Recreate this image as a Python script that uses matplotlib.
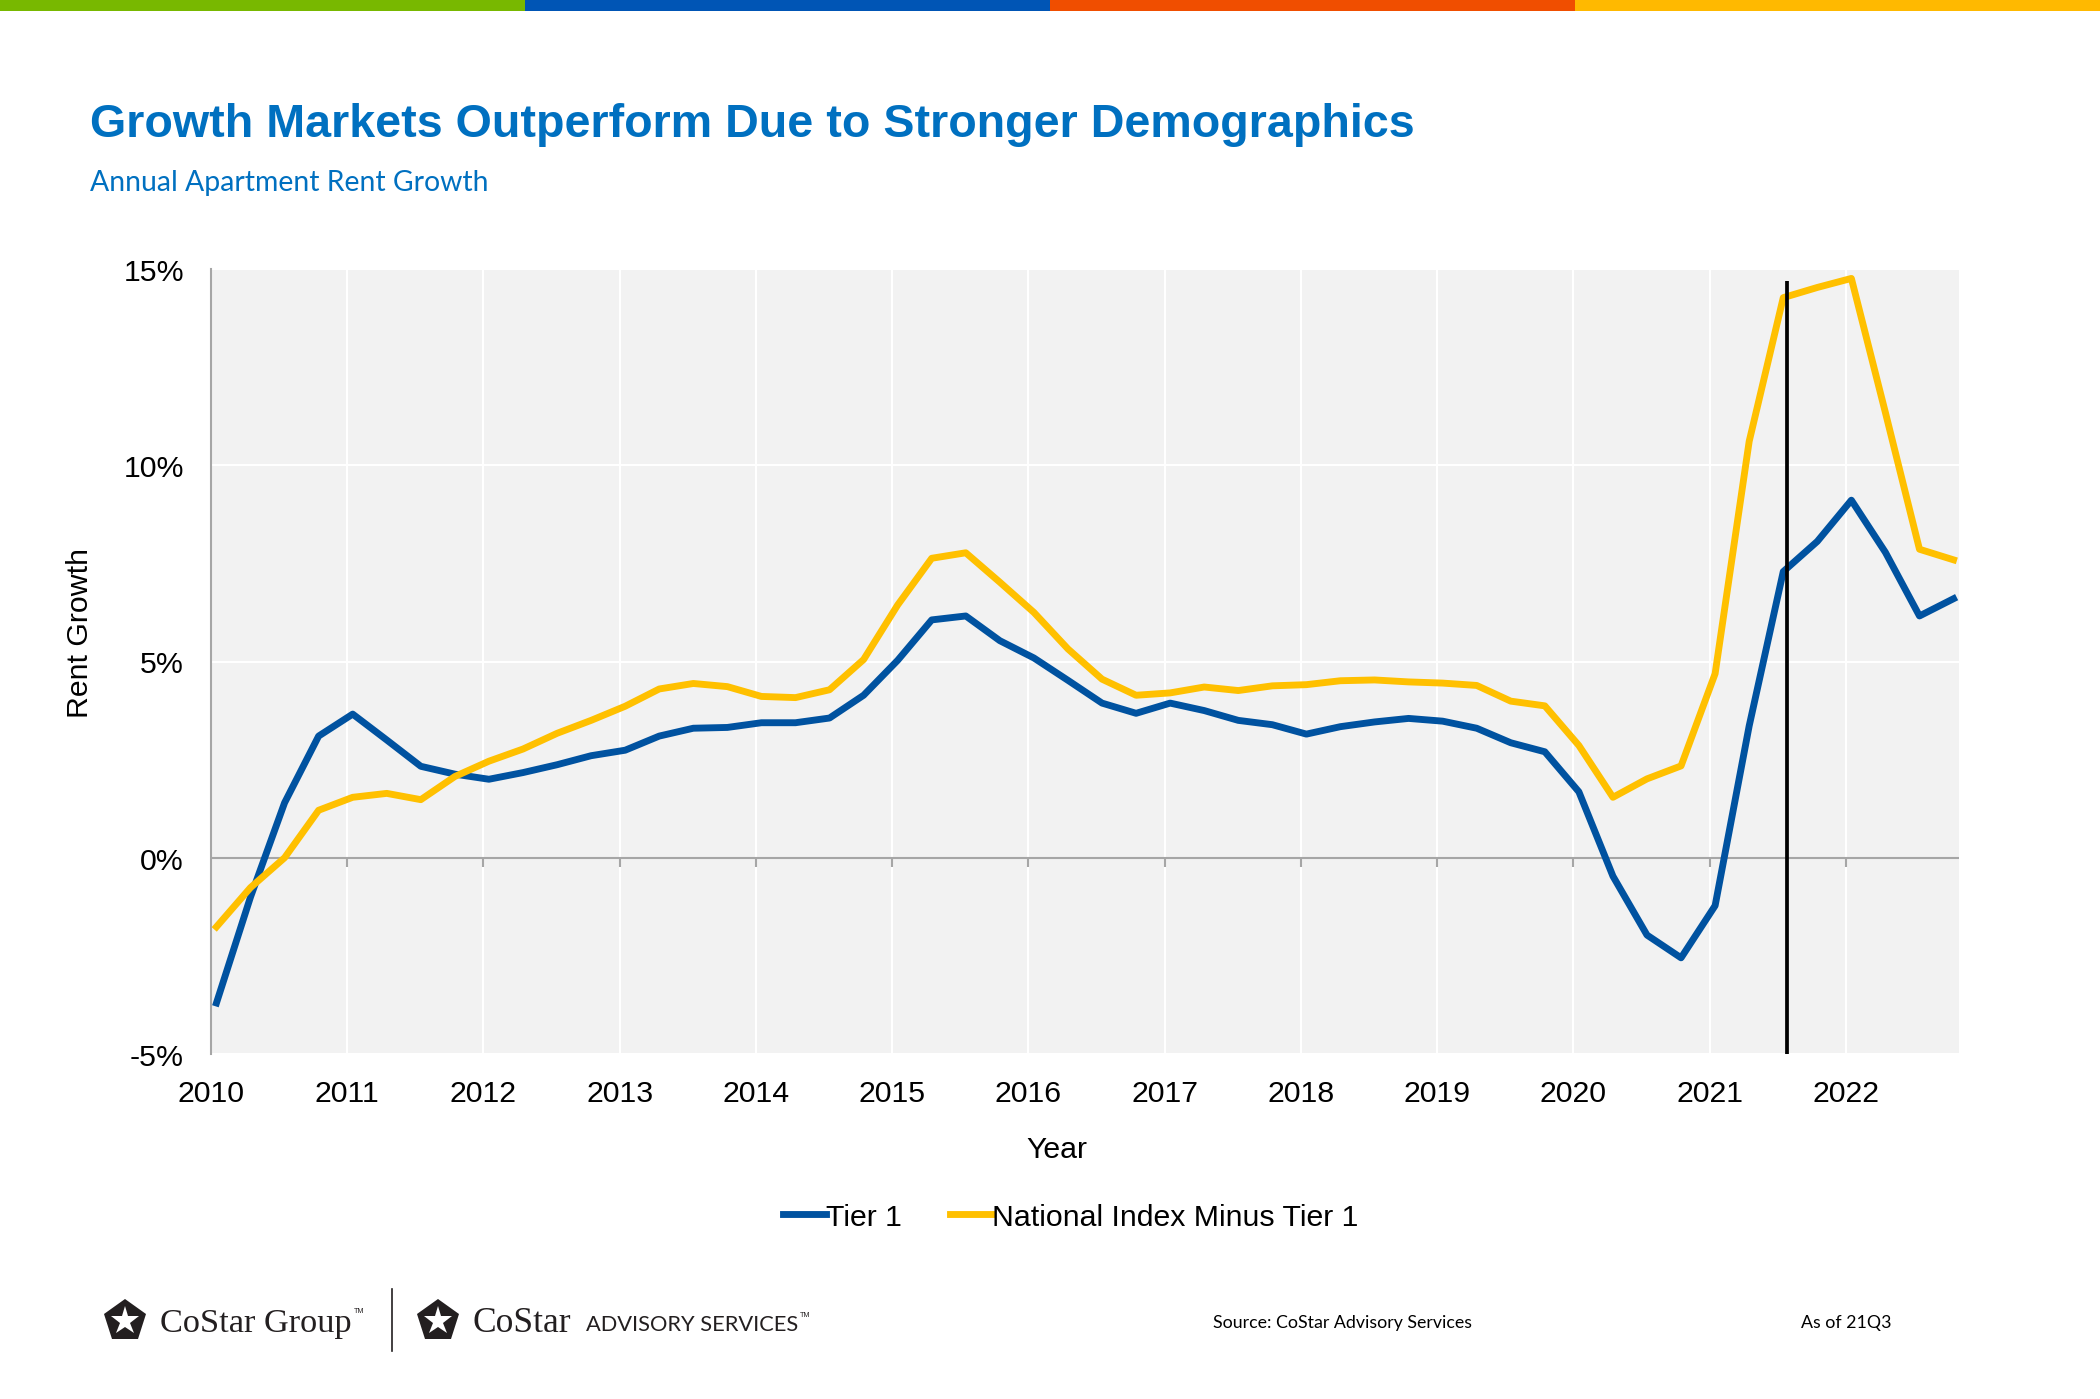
import numpy as np
import matplotlib
matplotlib.use("Agg")
import matplotlib.pyplot as plt
from matplotlib.patches import Rectangle
from matplotlib.lines import Line2D

# Annual rent growth (%), quarterly, 2010Q1 .. 2022Q4
tier1 = [-3.7, -1.0, 1.4, 3.1, 3.66, 3.0, 2.33, 2.13, 2.0, 2.17, 2.37, 2.6, 2.74, 3.1,
         3.30, 3.32, 3.44, 3.44, 3.56, 4.14, 5.03, 6.06, 6.16, 5.53, 5.09, 4.52, 3.94,
         3.68, 3.94, 3.75, 3.50, 3.39, 3.15, 3.34, 3.46, 3.55, 3.48, 3.30, 2.93, 2.70,
         1.68, -0.47, -1.97, -2.55, -1.22, 3.36, 7.29, 8.06, 9.11, 7.78, 6.16, 6.60]
national_minus_tier1 = [-1.76, -0.76, 0.0, 1.21, 1.54, 1.64, 1.48, 2.07, 2.46, 2.77, 3.17, 3.5, 3.86, 4.3,
                        4.44, 4.36, 4.11, 4.08, 4.28, 5.05, 6.44, 7.63, 7.77, 7.02, 6.25, 5.32, 4.55,
                        4.14, 4.20, 4.35, 4.26, 4.38, 4.41, 4.51, 4.53, 4.48, 4.45, 4.39, 3.99, 3.87,
                        2.86, 1.54, 2.01, 2.34, 4.69, 10.61, 14.27, 14.53, 14.76, 11.34, 7.86, 7.59]
years = list(range(2010, 2023))
y_ticks = [-5, 0, 5, 10, 15]
forecast_start = 2021.57   # "As of 21Q3" marker

# quarter positions in decimal years
x = 2010.04 + 0.25 * np.arange(len(tier1))

BLUE = "#0052a0"
YELLOW = "#ffc000"
TITLE_BLUE = "#0070c0"
INK = "#231f20"
BAR_COLORS = ["#78b800", "#0055b5", "#f04e00", "#ffb900"]

fig = plt.figure(figsize=(14, 9.3333), dpi=150)

# colour strip on top
for i, c in enumerate(BAR_COLORS):
    fig.add_artist(Rectangle((i / 4, 1 - 12 / 1400), 0.25, 12 / 1400,
                             transform=fig.transFigure, color=c, lw=0))

fig.text(90 / 2100, 1 - 125 / 1400, "Growth Markets Outperform Due to Stronger Demographics",
         fontsize=22.4, fontweight="bold", color=TITLE_BLUE, family="Liberation Sans", va="center")
fig.text(90 / 2100, 1 - 183 / 1400, "Annual Apartment Rent Growth",
         fontsize=13.6, color=TITLE_BLUE, family="Lato", va="center")

ax = fig.add_axes([211 / 2100, 1 - 1055 / 1400, 1748 / 2100, 785 / 1400])
ax.set_facecolor("#f2f2f2")

for yv in y_ticks:
    if yv != 0:
        ax.axhline(yv, color="white", lw=1.0, zorder=1)
for yr in years[1:]:
    ax.axvline(yr, color="white", lw=1.0, zorder=1)
ax.axhline(0, color="#a6a6a6", lw=1.0, zorder=2)
ax.vlines(years[1:], -0.23, 0, color="#a6a6a6", lw=1.0, zorder=2)

line_t1, = ax.plot(x, tier1, color=BLUE, lw=3.3, zorder=3, label="Tier 1")
line_nat, = ax.plot(x, national_minus_tier1, color=YELLOW, lw=3.3, zorder=3,
                    label="National Index Minus Tier 1")
ax.vlines(forecast_start, -5, 14.7, color="black", lw=1.8, zorder=4)

ax.set_xlim(2010, 2022.83)
ax.set_ylim(-5, 15)
ax.set_xticks(years)
ax.set_xticklabels([str(y) for y in years])
ax.set_yticks(y_ticks)
ax.set_yticklabels([f"{v}%" for v in y_ticks])
ax.tick_params(axis="both", length=0, labelsize=14.5)
ax.tick_params(axis="y", pad=13)
ax.tick_params(axis="x", pad=12)
for lab in ax.get_xticklabels() + ax.get_yticklabels():
    lab.set_family("Liberation Sans")

for s in ["top", "right", "bottom"]:
    ax.spines[s].set_visible(False)
ax.spines["left"].set_color("#a6a6a6")
ax.spines["left"].set_linewidth(1.0)

ax.set_ylabel("Rent Growth", fontsize=14.5, family="Liberation Sans")
ax.yaxis.set_label_coords(-0.067, 0.538)
ax.set_xlabel("Year", fontsize=14.5, family="Liberation Sans")
ax.xaxis.set_label_coords(0.484, -0.121)
ax.xaxis.label.set_va("center")

fig.legend(handles=[line_t1, line_nat], loc="center", bbox_to_anchor=(0.51, 1 - 1218 / 1400),
           ncol=2, frameon=False, prop={"family": "Liberation Sans", "size": 14.5},
           handlelength=1.4, handletextpad=0.0, columnspacing=1.6)


# footer: logos and notes
def logo(x0):
    la = fig.add_axes([x0 / 2100, 1 - 1346 / 1400, 48 / 2100, 48 / 1400])
    la.set_xlim(-1, 1)
    la.set_ylim(-1, 1)
    la.axis("off")
    la.plot([0], [0], marker="p", ms=21, color=INK, mew=0)
    la.plot([0], [0], marker="*", ms=14, color="white", mew=0)


renderer = fig.canvas.get_renderer()


def tm_after(t, dy):
    bb = t.get_window_extent(renderer)
    fig.text(bb.x1 / 2100 + 2 / 2100, 1 - dy / 1400, "TM", fontsize=3.5,
             family="Liberation Sans", color=INK, va="center")


logo(101)
logo(414)
t1 = fig.text(160 / 2100, 1 - 1324 / 1400, "CoStar Group", fontsize=16.5, family="Liberation Serif",
              color=INK, va="center")
tm_after(t1, 1312)
fig.add_artist(Line2D([392 / 2100, 392 / 2100], [1 - 1290 / 1400, 1 - 1352 / 1400],
                      transform=fig.transFigure, color=INK, lw=0.8))
fig.text(473 / 2100, 1 - 1324 / 1400, "CoStar", fontsize=17, family="Liberation Serif",
         color=INK, va="center")
t2 = fig.text(586 / 2100, 1 - 1325 / 1400, "ADVISORY SERVICES", fontsize=10.5, family="Lato",
              color=INK, va="center")
tm_after(t2, 1316)
fig.text(1213 / 2100, 1 - 1323 / 1400, "Source: CoStar Advisory Services", fontsize=8.5,
         family="Lato", color="black", va="center")
fig.text(1801 / 2100, 1 - 1323 / 1400, "As of 21Q3", fontsize=8.5,
         family="Lato", color="black", va="center")

fig.savefig("out.png", dpi=150, facecolor="white")
